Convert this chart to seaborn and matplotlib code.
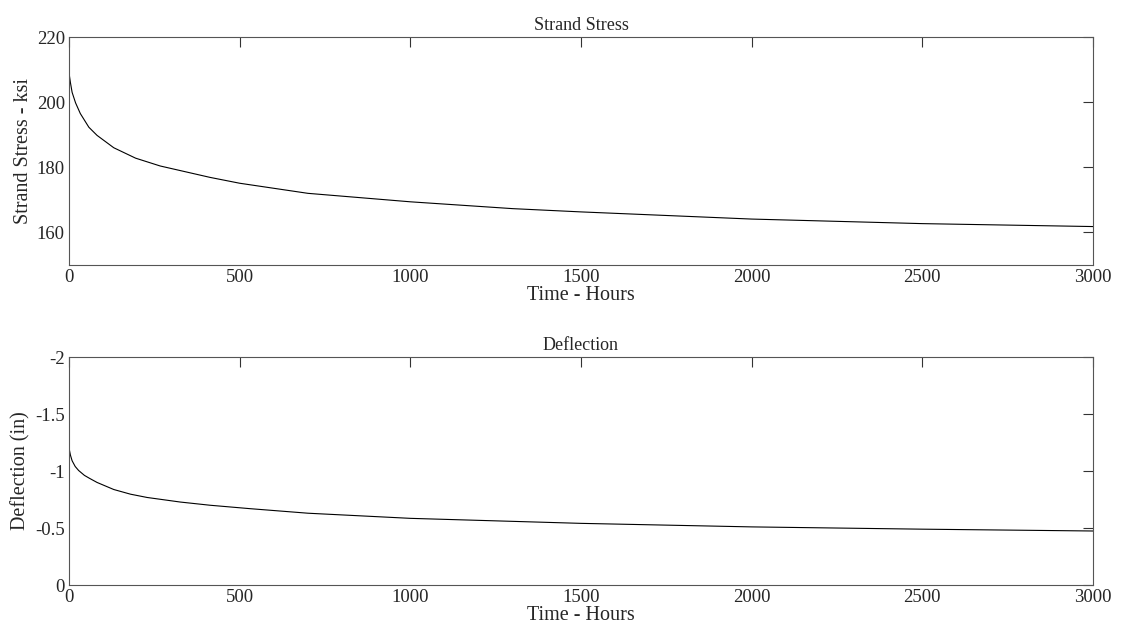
import numpy as np
import pandas as pd
import seaborn as sns
import matplotlib.pyplot as plt
from matplotlib.ticker import FuncFormatter

# values
stress_hours = [0, 4, 9, 19, 33, 58, 82, 131, 195, 267, 413, 500, 700, 1000, 1300, 1500, 2000, 2500, 3000]
stress_ksi = [208.9, 206.0, 203.0, 199.8, 196.5, 192.3, 189.8, 186.0, 182.8, 180.4, 176.9, 175.1,
              172.0, 169.4, 167.3, 166.3, 164.1, 162.7, 161.8]

defl_hours = [0, 4, 9, 18, 28, 45, 60, 82, 131, 180, 229, 326, 413, 530, 700, 1000, 1500, 2000, 2500, 3000]
defl_in = [-1.20, -1.14, -1.09, -1.04, -1.005, -0.962, -0.936, -0.900, -0.838, -0.797, -0.768, -0.728,
           -0.700, -0.670, -0.630, -0.585, -0.541, -0.51, -0.49, -0.474]

x_ticks = [0, 500, 1000, 1500, 2000, 2500, 3000]

sns.set_style("white")
plt.rcParams['font.family'] = ['Liberation Serif', 'DejaVu Serif']
plt.rcParams['axes.unicode_minus'] = False
plt.rcParams['font.size'] = 13

df_s = pd.DataFrame({"hours": stress_hours, "ksi": stress_ksi})
df_d = pd.DataFrame({"hours": defl_hours, "defl": defl_in})

fig = plt.figure(figsize=(11.21, 6.35), dpi=100)
ax1 = fig.add_axes([0.0616, 0.5827, 0.9134, 0.359])
ax2 = fig.add_axes([0.0616, 0.0787, 0.9134, 0.359])

sns.lineplot(data=df_s, x="hours", y="ksi", ax=ax1, color="black", linewidth=0.8)
sns.lineplot(data=df_d, x="hours", y="defl", ax=ax2, color="black", linewidth=0.8)

ax1.set_ylim(150, 220)
ax1.set_yticks([160, 180, 200, 220])
ax1.set_title("Strand Stress", fontsize=13, pad=5)
ax1.set_ylabel("Strand Stress - ksi", fontsize=14.5, labelpad=3)

ax2.set_ylim(0, -2)
ax2.set_yticks([0, -0.5, -1, -1.5, -2])
ax2.yaxis.set_major_formatter(FuncFormatter(lambda v, p: "%g" % v))
ax2.set_title("Deflection", fontsize=13, pad=5)
ax2.set_ylabel("Deflection (in)", fontsize=14.5, labelpad=3)

for ax in (ax1, ax2):
    ax.set_xlim(0, 3000)
    ax.set_xticks(x_ticks)
    ax.set_xlabel("Time - Hours", fontsize=14.5, labelpad=0)
    ax.tick_params(direction="in", length=7, width=0.8, top=True, right=True,
                   color="#333333", labelsize=13.5, pad=3)
    for sp in ax.spines.values():
        sp.set_color("#555555")
        sp.set_linewidth(0.8)

fig.savefig("out.png", dpi=100)
